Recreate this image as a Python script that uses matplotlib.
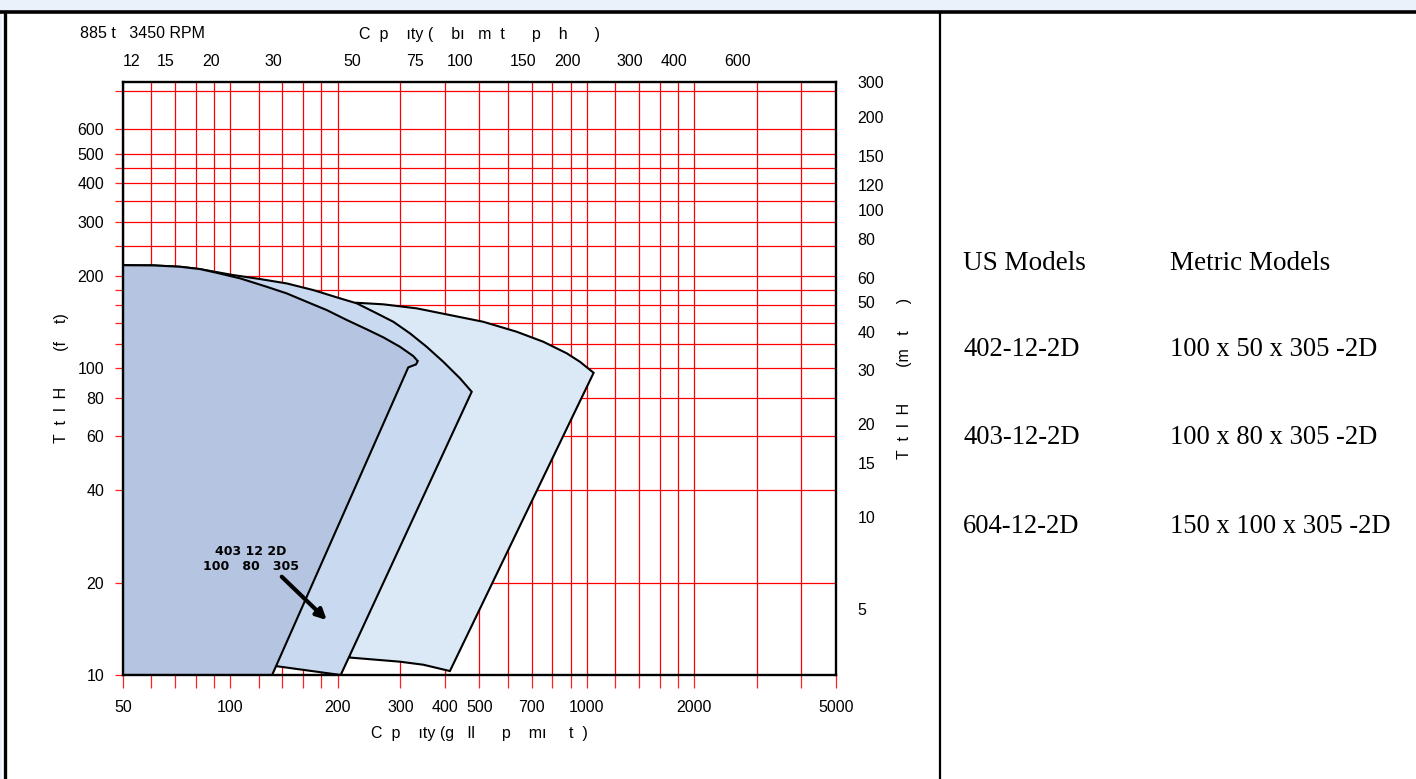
import matplotlib
matplotlib.use("Agg")
import matplotlib.pyplot as plt
from matplotlib.lines import Line2D
from matplotlib.patches import Rectangle
from matplotlib.ticker import FixedLocator, NullLocator, NullFormatter

plt.rcParams['font.family'] = ['Liberation Sans', 'DejaVu Sans']

# unit conversions
FT_PER_M = 3.281
M3H_PER_GPM = 0.2271

# coverage outlines, capacity in gpm and head in ft
q_402 = [50, 60.8, 72.3, 82.2, 91.5, 106.5, 126.5, 143.9, 163.8, 186.4, 212.2, 241.4,
         268.7, 299.2, 326, 335.5, 331.9, 315.6, 131, 50]
h_402 = [216.3, 216, 213.8, 210.1, 204.4, 196, 184, 175.1, 164.4, 154.5, 143.4, 133.7,
         125.9, 117.3, 109.4, 105.4, 102.8, 100.5, 10, 10]

q_403 = [50, 60.8, 72.3, 82.2, 101.9, 121.1, 143.9, 170.9, 203.1, 226.3, 257.4, 286.6,
         319.2, 355.4, 395.8, 440.8, 475.5, 204, 133.5, 50]
h_403 = [216.3, 216, 213.8, 210.1, 200.9, 195, 188.7, 179.5, 168.7, 162.5, 150.8, 141.5,
         129.7, 117.3, 104.8, 92.6, 83.7, 10, 10.7, 10.7]

q_604 = [226.3, 268.7, 333.3, 413.4, 512.4, 635.9, 755.2, 878.5, 957, 1045,
         413, 348, 299, 216]
h_604 = [163.2, 161.3, 156.5, 148.8, 141.5, 131.3, 121.8, 111.7, 104.8, 96.5,
         10.3, 10.8, 11.05, 11.4]

# axis ticks
gpm_major = [50, 100, 200, 300, 400, 500, 700, 1000, 2000, 5000]
gpm_minor = [60, 70, 80, 90, 120, 140, 160, 180, 600, 800, 900, 1200, 1400, 1600, 1800, 3000, 4000]
ft_major = [10, 20, 40, 60, 80, 100, 200, 300, 400, 500, 600]
ft_minor = [120, 140, 160, 180, 250, 350, 450, 800]
m3h_ticks = [12, 15, 20, 30, 50, 75, 100, 150, 200, 300, 400, 600]
m_ticks = [5, 10, 15, 20, 30, 40, 50, 60, 80, 100, 120, 150, 200, 300]
m_marks = [50, 100, 200, 300]

us_models = ['402-12-2D', '403-12-2D', '604-12-2D']
metric_models = ['100 x 50 x 305 -2D', '100 x 80 x 305 -2D', '150 x 100 x 305 -2D']

Q_LIM = (50, 5000)
H_LIM = (10, 855)

W, H = 1416, 779
fig = plt.figure(figsize=(W / 100, H / 100), dpi=100)
ax = fig.add_axes([123 / W, 1 - 675 / H, (836 - 123) / W, (675 - 82) / H])
ax.set_xscale('log')
ax.set_yscale('log')
ax.set_xlim(*Q_LIM)
ax.set_ylim(*H_LIM)

# grid
ax.set_axisbelow(True)
ax.xaxis.set_major_locator(FixedLocator(gpm_major))
ax.xaxis.set_minor_locator(FixedLocator(gpm_minor))
ax.yaxis.set_major_locator(FixedLocator(ft_major))
ax.yaxis.set_minor_locator(FixedLocator(ft_minor))
ax.set_xticklabels([str(v) for v in gpm_major])
ax.set_yticklabels([str(v) for v in ft_major])
ax.xaxis.set_minor_formatter(NullFormatter())
ax.yaxis.set_minor_formatter(NullFormatter())
ax.grid(True, which='both', color='#ff0000', lw=0.9)

ax.tick_params(axis='x', which='both', length=9, width=0.9, color='#ff2020',
               labelsize=11.5, pad=9)
ax.tick_params(axis='y', which='both', length=5.5, width=0.9, color='#ff2020',
               labelsize=11.5, pad=8)
for s in ax.spines.values():
    s.set_linewidth(1.7)
    s.set_zorder(3)

# pump coverage areas
ax.fill(q_604, h_604, facecolor='#dbe8f6', edgecolor='black', lw=1.5, zorder=1.0)
ax.fill(q_403, h_403, facecolor='#c9d9ef', edgecolor='black', lw=1.5, zorder=1.1)
ax.fill(q_402, h_402, facecolor='#b5c4e1', edgecolor='black', lw=1.5, zorder=1.2)

ax.text(114.3, 23.9, '403 12 2D\n100   80   305', ha='center', va='center',
        family='DejaVu Sans', fontsize=9, fontweight='bold', linespacing=1.15, zorder=5)
ax.annotate('', xy=(186.4, 15.1), xytext=(139.4, 20.9), zorder=5,
            arrowprops=dict(arrowstyle='-|>', color='black', lw=3,
                            mutation_scale=15, shrinkA=0, shrinkB=0))

ax.set_xlabel('C  p    ıty (g   ll      p    mı     t  )', fontsize=11.5, labelpad=8)
ax.set_ylabel('T  t  l  H        (f    t)', fontsize=11.5, labelpad=6)

# top axis in m3/h
top = ax.secondary_xaxis('top', functions=(lambda q: q * M3H_PER_GPM,
                                           lambda m: m / M3H_PER_GPM))
top.set_xticks(m3h_ticks, labels=[str(v) for v in m3h_ticks])
top.xaxis.set_minor_locator(NullLocator())
top.tick_params(length=0, labelsize=11.5, pad=9.5)
top.spines['top'].set_visible(False)
top.set_xlabel('C  p    ıty (    bı   m  t      p    h      )', fontsize=11.5, labelpad=11)

# right axis in metres
ax2 = ax.twinx()
ax2.set_yscale('log')
ax2.set_ylim(*H_LIM)
ax2.yaxis.set_major_locator(FixedLocator([min(m * FT_PER_M, H_LIM[1]) for m in m_ticks]))
ax2.set_yticklabels([str(m) for m in m_ticks])
ax2.yaxis.set_minor_locator(FixedLocator([min(m * FT_PER_M, H_LIM[1]) for m in m_marks]))
ax2.yaxis.set_minor_formatter(NullFormatter())
ax2.tick_params(axis='y', which='major', length=0, labelsize=11.5, pad=15.5)
ax2.tick_params(axis='y', which='minor', length=8, width=1.2, color='#f4a090')
for s in ax2.spines.values():
    s.set_visible(False)
ax2.set_ylabel('T  t  l  H        (m   t      )', fontsize=11.5, labelpad=9)

fig.text(80 / W, 1 - 33 / H, '885 t   3450 RPM', fontsize=11.5, va='center', ha='left')

# model table
serif = ['Liberation Serif', 'DejaVu Serif']
fig.text(963 / W, 1 - 269.5 / H, 'US Models', family=serif, fontsize=19.5, va='baseline')
fig.text(1170 / W, 1 - 269.5 / H, 'Metric Models', family=serif, fontsize=19.5, va='baseline')
for i, (us, mm) in enumerate(zip(us_models, metric_models)):
    yb = 1 - (356 + i * 88.5) / H
    fig.text(963 / W, yb, us, family=serif, fontsize=19.2, va='baseline')
    fig.text(1170 / W, yb, mm, family=serif, fontsize=19.2, va='baseline')

# page frame
fig.patches.append(Rectangle((0, 1 - 10 / H), 1, 10 / H, transform=fig.transFigure,
                             facecolor='#eaf1fa', edgecolor='none'))
fig.patches.append(Rectangle((0, 0), 2 / W, 1, transform=fig.transFigure,
                             facecolor='#eaf1fa', edgecolor='none'))
fig.lines.append(Line2D([0, 1], [1 - 12 / H] * 2, transform=fig.transFigure,
                        color='black', lw=2.6))
fig.lines.append(Line2D([5 / W] * 2, [0, 1 - 12 / H], transform=fig.transFigure,
                        color='black', lw=2.4))
fig.lines.append(Line2D([940 / W] * 2, [0, 1 - 12 / H], transform=fig.transFigure,
                        color='black', lw=1.6))

fig.savefig('out.png', dpi=100)
